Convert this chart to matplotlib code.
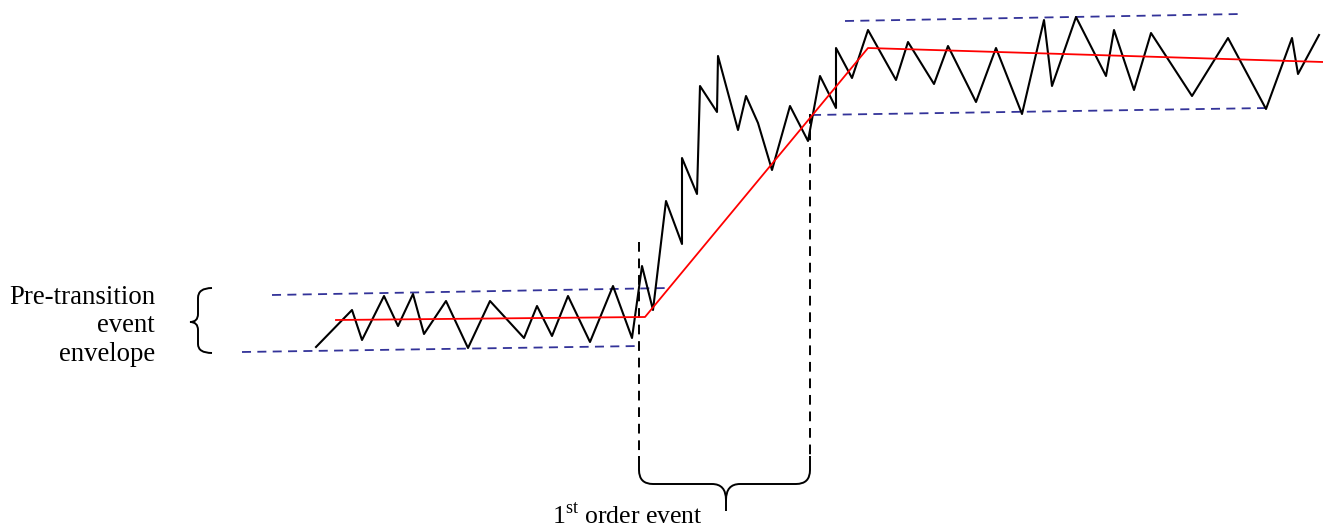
import numpy as np
import matplotlib.pyplot as plt
from matplotlib.path import Path
from matplotlib.patches import PathPatch

plt.rcParams['font.family'] = ['Liberation Serif', 'DejaVu Serif']
plt.rcParams['mathtext.fontset'] = 'custom'
plt.rcParams['mathtext.rm'] = 'Liberation Serif'

# signal trace (pixel coords, y down)
sig_x = [316, 352, 362, 384, 398, 413, 424, 446, 468, 490, 524, 537, 552, 568,
         590, 613, 632, 642, 653, 666, 682, 682, 697, 700, 717, 718, 738, 746,
         758, 772, 790, 808, 820, 836, 836, 852, 868, 896, 908, 934, 948, 976,
         996, 1022, 1044, 1052, 1076, 1106, 1114, 1134, 1151, 1192, 1228, 1266,
         1292, 1298, 1319]
sig_y = [347, 310, 340, 296, 326, 294, 334, 301, 348, 301, 338, 306, 336, 296,
         342, 286, 338, 266, 310, 201, 244, 158, 194, 86, 112, 56, 130, 96,
         123, 170, 106, 141, 76, 108, 48, 78, 30, 80, 42, 84, 46, 102,
         48, 114, 20, 86, 17, 76, 30, 90, 33, 96, 38, 109,
         38, 74, 35]

# piecewise trend
trend_x = [336, 645, 868, 1323]
trend_y = [320, 317, 48, 62]

# envelopes (start/end)
env_pre_hi = ([272, 668], [295, 288])
env_pre_lo = ([242, 640], [352, 346])
env_post_hi = ([845, 1241], [21, 14])
env_post_lo = ([812, 1268], [115, 108])

# event boundaries
ev_x = [639, 810]
ev_top = [242, 114]

fig = plt.figure(figsize=(13.23, 5.28), dpi=100)
ax = fig.add_axes([0, 0, 1, 1])
ax.set_xlim(0, 1323)
ax.set_ylim(528, 0)
ax.axis('off')

blue = '#333399'
for ex, ey in [env_pre_hi, env_pre_lo, env_post_hi, env_post_lo]:
    ax.plot(ex, ey, color=blue, lw=1.3, dashes=(5, 3.5))

for x, t in zip(ev_x, ev_top):
    ax.plot([x, x], [t, 458], color='black', lw=1.4, dashes=(5, 3.5))

ax.plot(sig_x, sig_y, color='black', lw=1.5)
ax.plot(trend_x, trend_y, color='red', lw=1.3)

# bottom brace
x0, x1, xm = ev_x[0], ev_x[1], 726
yh, ytip = 484, 511
verts = [(x0, 456), (x0, 470), (x0, yh), (x0 + 14, yh),
         (xm - 14, yh), (xm, yh), (xm, 500), (xm, ytip),
         (xm, 500), (xm, yh), (xm + 14, yh),
         (x1 - 14, yh), (x1, yh), (x1, 470), (x1, 456)]
codes = [Path.MOVETO, Path.LINETO, Path.CURVE3, Path.CURVE3,
         Path.LINETO, Path.CURVE3, Path.CURVE3, Path.LINETO,
         Path.MOVETO, Path.CURVE3, Path.CURVE3,
         Path.LINETO, Path.CURVE3, Path.CURVE3, Path.LINETO]
ax.add_patch(PathPatch(Path(verts, codes), fill=False, lw=1.4, ec='black'))

# left brace
bx, vx, tipx = 212, 198, 190
verts = [(bx, 288), (vx, 288), (vx, 298), (vx, 314), (vx, 322), (tipx, 322),
         (vx, 322), (vx, 330), (vx, 344), (vx, 353), (bx, 353)]
codes = [Path.MOVETO, Path.CURVE3, Path.CURVE3, Path.LINETO, Path.CURVE3, Path.CURVE3,
         Path.CURVE3, Path.CURVE3, Path.LINETO, Path.CURVE3, Path.CURVE3]
ax.add_patch(PathPatch(Path(verts, codes), fill=False, lw=1.4, ec='black'))

ax.text(155, 326, 'Pre-transition\nevent\nenvelope', ha='right', va='center',
        fontsize=19.3, linespacing=1.2)
ax.text(552, 528, r'1$^{\mathrm{st}}$ order event', ha='left', va='bottom', fontsize=18.5)

fig.savefig('out.png', dpi=100)
